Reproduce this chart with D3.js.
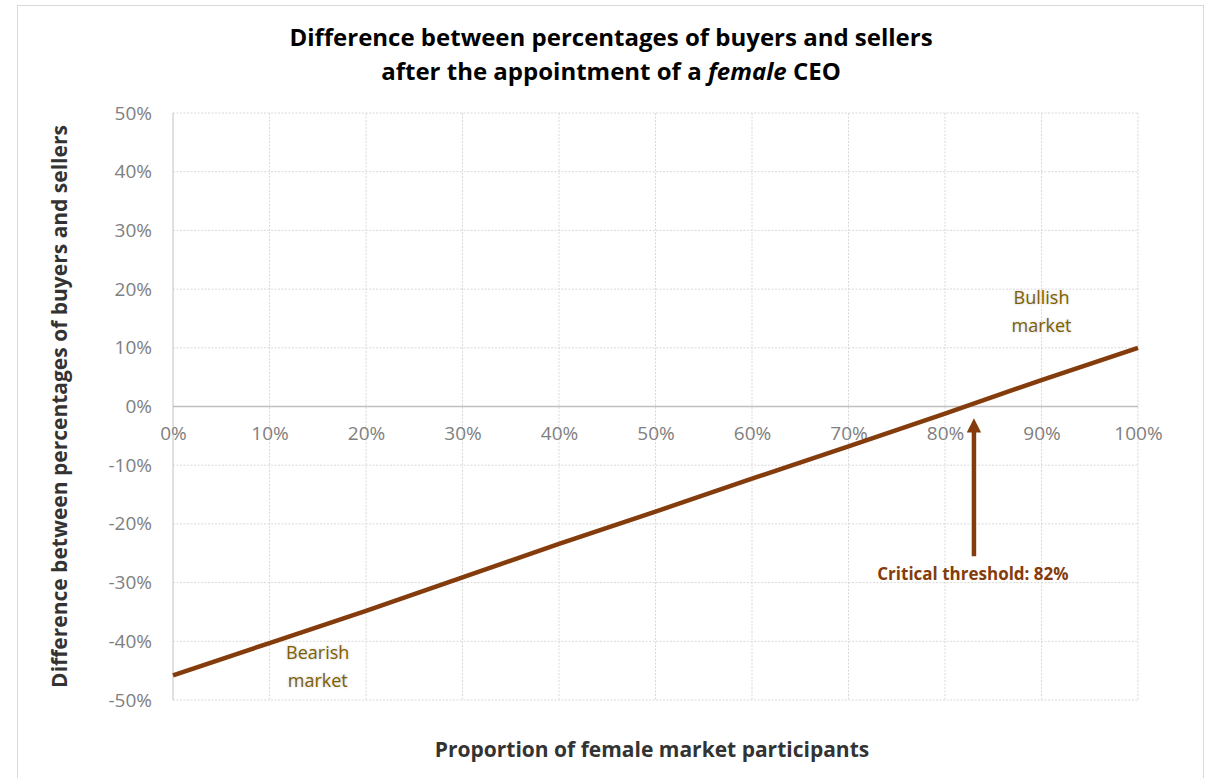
<!DOCTYPE html>
<html>
<head>
<meta charset="utf-8">
<script src="https://d3js.org/d3.v7.min.js"></script>
<style>
  body { margin: 0; background: #ffffff; font-family: "Open Sans", "Noto Sans", sans-serif; }
</style>
</head>
<body>
<div class="chart"></div>
<script>
// values
var femaleShare = [0, 0.1, 0.2, 0.3, 0.4, 0.5, 0.6, 0.7, 0.8, 0.9, 1.0];
var buySellDiff = [-0.458, -0.403, -0.348, -0.291, -0.234, -0.179, -0.123, -0.068, -0.012, 0.045, 0.100];
var xTicks = [0, 0.1, 0.2, 0.3, 0.4, 0.5, 0.6, 0.7, 0.8, 0.9, 1.0];
var yTicks = [-0.5, -0.4, -0.3, -0.2, -0.1, 0, 0.1, 0.2, 0.3, 0.4, 0.5];
var thresholdLabel = "Critical threshold: 82%";
var arrowX = 0.83, arrowY = [-0.022, -0.255];
var bullish = { x: 0.90, y: 0.175, lines: ["Bullish", "market"] };
var bearish = { x: 0.15, y: -0.43, lines: ["Bearish", "market"] };

var W = 1218, H = 778;
var margin = { top: 113, right: 80, bottom: 78, left: 173 };
var width = W - margin.left - margin.right,
    height = H - margin.top - margin.bottom;

var svg = d3.select('.chart').append('svg')
    .attr('width', W).attr('height', H);

// frame
svg.append('rect')
    .attr('x', 17.5).attr('y', 5.5).attr('width', 1186).attr('height', 800)
    .attr('fill', 'none').attr('stroke', '#d9d9d9');

var g = svg.append('g').attr('transform', 'translate(' + margin.left + ',' + margin.top + ')');

var x = d3.scaleLinear().domain([0, 1]).range([0, width]);
var y = d3.scaleLinear().domain([-0.5, 0.5]).range([height, 0]);
var pct = function(d) { return d3.format('.0%')(d).replace('\u2212', '-'); };

// gridlines
g.selectAll('.hgrid').data(yTicks.filter(function(d) { return d !== 0; }))
    .enter().append('line')
    .attr('x1', 0).attr('x2', width)
    .attr('y1', function(d) { return y(d); }).attr('y2', function(d) { return y(d); })
    .attr('stroke', '#d9d9d9').attr('stroke-dasharray', '2,1.5');
g.selectAll('.vgrid').data(xTicks.filter(function(d) { return d !== 0; }))
    .enter().append('line')
    .attr('y1', 0).attr('y2', height)
    .attr('x1', function(d) { return x(d); }).attr('x2', function(d) { return x(d); })
    .attr('stroke', '#d9d9d9').attr('stroke-dasharray', '2,1.5');

// axes lines
g.append('line').attr('x1', 0).attr('x2', 0).attr('y1', 0).attr('y2', height)
    .attr('stroke', '#d0d0d0').attr('stroke-width', 1.3);
g.append('line').attr('x1', 0).attr('x2', width).attr('y1', y(0)).attr('y2', y(0))
    .attr('stroke', '#bfbfbf').attr('stroke-width', 1.3);

// y tick labels
var yAxis = g.append('g').call(d3.axisLeft(y).tickValues(yTicks).tickFormat(pct).tickSize(0).tickPadding(21));
yAxis.select('.domain').remove();
yAxis.selectAll('text').attr('fill', '#808080').style('font-size', '19px')
    .style('font-family', '"Open Sans", sans-serif');

// x tick labels, under the zero line
var xAxis = g.append('g').attr('transform', 'translate(0,' + y(0) + ')')
    .call(d3.axisBottom(x).tickValues(xTicks).tickFormat(pct).tickSize(0).tickPadding(20));
xAxis.select('.domain').remove();
xAxis.selectAll('text').attr('fill', '#808080').style('font-size', '19px')
    .style('font-family', '"Open Sans", sans-serif');

// data line
var line = d3.line().x(function(d) { return x(d[0]); }).y(function(d) { return y(d[1]); });
g.append('path').datum(d3.zip(femaleShare, buySellDiff))
    .attr('d', line).attr('fill', 'none')
    .attr('stroke', '#843c0c').attr('stroke-width', 4.5);

// arrow
var defs = svg.append('defs');
defs.append('marker').attr('id', 'head')
    .attr('viewBox', '0 0 10 10').attr('refX', 5).attr('refY', 5)
    .attr('markerWidth', 3.2).attr('markerHeight', 3.2).attr('orient', 'auto')
    .append('path').attr('d', 'M0,0 L10,5 L0,10 z').attr('fill', '#843c0c');
g.append('line')
    .attr('x1', x(arrowX)).attr('x2', x(arrowX))
    .attr('y1', y(arrowY[1])).attr('y2', y(arrowY[0]) + 6)
    .attr('stroke', '#843c0c').attr('stroke-width', 4.5)
    .attr('marker-end', 'url(#head)');
g.append('text')
    .attr('x', x(arrowX) - 1).attr('y', y(arrowY[1]) + 24)
    .attr('text-anchor', 'middle')
    .attr('fill', '#843c0c').style('font-weight', 'bold').style('font-size', '17px')
    .text(thresholdLabel);

// market labels
[bullish, bearish].forEach(function(m) {
    var t = g.append('text')
        .attr('x', x(m.x)).attr('y', y(m.y))
        .attr('text-anchor', 'middle')
        .attr('fill', '#7f6000').style('font-size', '18px')
        .style('text-shadow', '0 0 3px #c8c8c8');
    m.lines.forEach(function(s, i) {
        t.append('tspan').attr('x', x(m.x)).attr('dy', i === 0 ? 0 : 28).text(s);
    });
});

// titles
var title = svg.append('text').attr('x', 611).attr('y', 46)
    .attr('text-anchor', 'middle').attr('fill', '#000')
    .style('font-weight', 'bold').style('font-size', '24px');
title.append('tspan').attr('x', 611).text('Difference between percentages of buyers and sellers');
var t2 = title.append('tspan').attr('x', 611).attr('dy', 34);
t2.append('tspan').text('after the appointment of a ');
t2.append('tspan').style('font-style', 'italic').text('female');
t2.append('tspan').text(' CEO');

svg.append('text')
    .attr('x', 652).attr('y', 757)
    .attr('text-anchor', 'middle').attr('fill', '#333')
    .style('font-weight', 'bold').style('font-size', '21px')
    .text('Proportion of female market participants');

svg.append('text')
    .attr('transform', 'translate(67,' + (margin.top + height / 2) + ') rotate(-90)')
    .attr('text-anchor', 'middle').attr('fill', '#333')
    .style('font-weight', 'bold').style('font-size', '21px')
    .text('Difference between percentages of buyers and sellers');
</script>
</body>
</html>
